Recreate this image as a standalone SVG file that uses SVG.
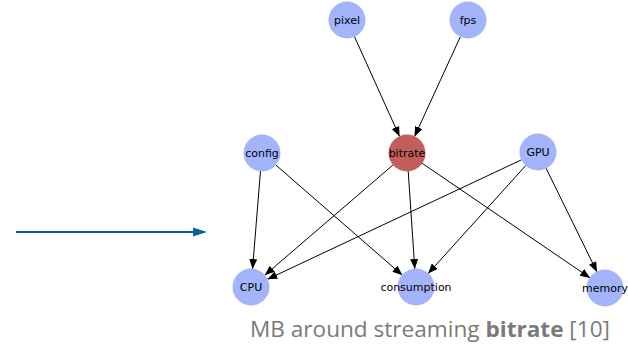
<svg xmlns="http://www.w3.org/2000/svg" width="628" height="346" viewBox="0 0 628 346">
<style>
.edge{stroke:#000;stroke-width:1;fill:none;marker-end:url(#ah)}
.node{fill:#a3b4fb}
.hot{fill:#c25f5c}
.lbl{font-family:"DejaVu Sans",sans-serif;font-size:11px;fill:#000;text-anchor:middle;dominant-baseline:central}
.cap{font-family:"Open Sans","Liberation Sans",sans-serif;font-size:22px;fill:#7a7a7a}
</style>
<defs>
<marker id="ah" markerUnits="userSpaceOnUse" markerWidth="10" markerHeight="8" refX="10" refY="4" orient="auto">
<path d="M0,0 L10,4 L0,8 z" fill="#000"/>
</marker>
</defs>
<g id="pointer">
<line x1="16" y1="232" x2="196" y2="232" stroke="#0b6496" stroke-width="2"/>
<polygon points="193,227.5 207,232 193,236.5" fill="#0b6496"/>
</g>
<g id="edges">
<line class="edge" x1="354.4" y1="36.4" x2="399.6" y2="136.6"/>
<line class="edge" x1="460.5" y1="36.4" x2="414.5" y2="136.6"/>
<line class="edge" x1="260.5" y1="170.9" x2="252.5" y2="269.1"/>
<line class="edge" x1="275.6" y1="164.8" x2="402.4" y2="275.2"/>
<line class="edge" x1="393.3" y1="164.7" x2="264.7" y2="275.3"/>
<line class="edge" x1="408.2" y1="171" x2="414.8" y2="269"/>
<line class="edge" x1="421.9" y1="163.1" x2="590.1" y2="277.9"/>
<line class="edge" x1="521.7" y1="159.7" x2="267.3" y2="279.3"/>
<line class="edge" x1="525.9" y1="165.4" x2="428.1" y2="273.6"/>
<line class="edge" x1="546" y1="168.1" x2="597" y2="271.9"/>
</g>
<g id="pixel"><circle class="node" cx="347" cy="20" r="18.5"/><text class="lbl" x="347" y="20">pixel</text></g>
<g id="fps"><circle class="node" cx="468" cy="20" r="18.5"/><text class="lbl" x="468" y="20">fps</text></g>
<g id="config"><circle class="node" cx="262" cy="153" r="18.5"/><text class="lbl" x="262" y="153">config</text></g>
<g id="bitrate"><circle class="hot" cx="407" cy="153" r="18.5"/><text class="lbl" x="407" y="153">bitrate</text></g>
<g id="GPU"><circle class="node" cx="538" cy="152" r="18.5"/><text class="lbl" x="538" y="152">GPU</text></g>
<g id="CPU"><circle class="node" cx="251" cy="287" r="18.5"/><text class="lbl" x="251" y="287">CPU</text></g>
<g id="consumption"><circle class="node" cx="416" cy="287" r="18.5"/><text class="lbl" x="416" y="287">consumption</text></g>
<g id="memory"><circle class="node" cx="605" cy="288" r="18.5"/><text class="lbl" x="605" y="288">memory</text></g>
<text class="cap" x="250" y="337" textLength="360" lengthAdjust="spacingAndGlyphs">MB around streaming <tspan font-weight="bold">bitrate</tspan> [10]</text>
</svg>
